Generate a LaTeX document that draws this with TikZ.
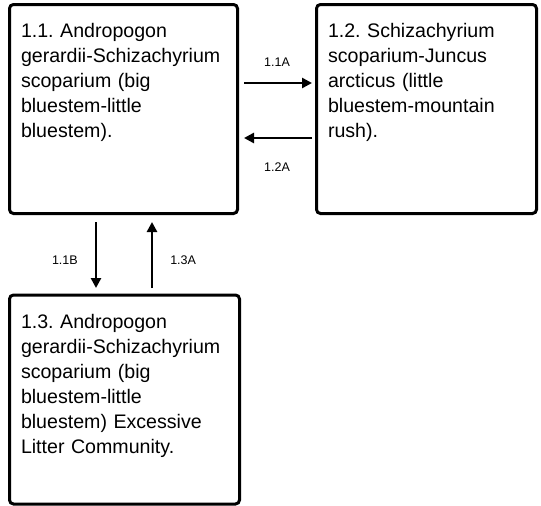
\documentclass[tikz,border=0pt]{standalone}
\usepackage{fontspec}
\setmainfont{Liberation Sans}
\frenchspacing
\usetikzlibrary{arrows.meta, positioning}

\begin{document}
\begin{tikzpicture}[
  x=1pt, y=1pt,
  stbox/.style={rectangle, rounded corners=4pt, draw=black, line width=3pt,
                align=left, inner xsep=11.5pt, inner ysep=10pt,
                text height=23pt, text depth=166pt,
                font=\fontsize{19.6}{25}\selectfont},
  arr/.style={-{Triangle[length=10pt, width=10pt]}, line width=2.5pt},
  lbl/.style={font=\fontsize{12.5}{14}\selectfont, inner sep=0pt}
]
\useasboundingbox (0,0) rectangle (541,-506);

\node[stbox, text width=205pt, anchor=north west] (n11) at (8,-3)
  {1.1. Andropogon\\gerardii-Schizachyrium\\scoparium (big\\bluestem-little\\bluestem).};
\node[stbox, text width=197pt, right=76pt of n11] (n12)
  {1.2. Schizachyrium\\scoparium-Juncus\\arcticus (little\\bluestem-mountain\\rush).};
\node[stbox, text width=207pt, below=78.5pt of n11.south west, anchor=north west] (n13)
  {1.3. Andropogon\\gerardii-Schizachyrium\\scoparium (big\\bluestem-little\\bluestem) Excessive\\Litter Community.};

% transitions between 1.1 and 1.2
\draw[arr, shorten <=5pt, shorten >=3pt] ([yshift=26pt]n11.east) --
  node[lbl, above=15pt] (l11a) {1.1A} ([yshift=26pt]n12.west);
\draw[arr, shorten <=3pt, shorten >=5pt] ([yshift=-29pt]n12.west) --
  node[lbl, below=24pt] (l12a) {1.2A} ([yshift=-29pt]n11.east);

% transitions between 1.1 and 1.3
\draw[arr, shorten <=7pt, shorten >=5.5pt] ([xshift=-27.5pt]n11.south) --
  node[lbl, left=17pt, yshift=-6pt] (l11b) {1.1B} ([xshift=-27.5pt]n11.south |- n13.north);
\draw[arr, shorten <=5.5pt, shorten >=7pt] ([xshift=28.5pt]n11.south |- n13.north) --
  node[lbl, right=17pt, yshift=-6pt] (l13a) {1.3A} ([xshift=28.5pt]n11.south);

\end{tikzpicture}
\end{document}
